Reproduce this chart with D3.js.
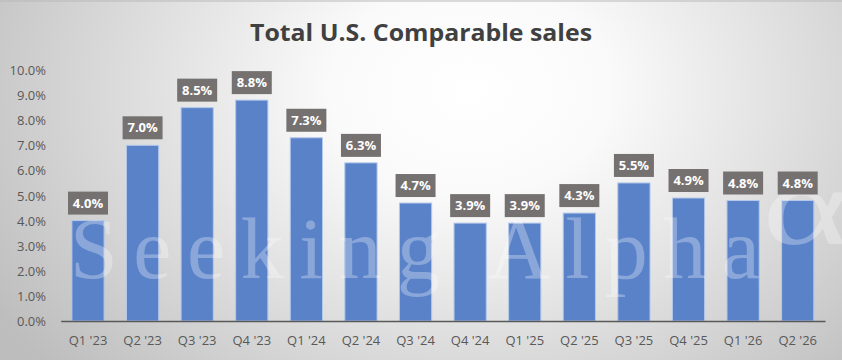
<!DOCTYPE html>
<html><head><meta charset="utf-8">
<script src="https://cdn.jsdelivr.net/npm/d3@7"></script>
<style>html,body{margin:0;padding:0;background:#fff;}svg{display:block;}</style>
</head><body>
<svg id="chart" width="842" height="360"></svg>
<script>
const categories = ["Q1 '23","Q2 '23","Q3 '23","Q4 '23","Q1 '24","Q2 '24","Q3 '24","Q4 '24","Q1 '25","Q2 '25","Q3 '25","Q4 '25","Q1 '26","Q2 '26"];
const values = [4.0,7.0,8.5,8.8,7.3,6.3,4.7,3.9,3.9,4.3,5.5,4.9,4.8,4.8];
const yTicks = [0,1,2,3,4,5,6,7,8,9,10];
const title = "Total U.S. Comparable sales";

const W = 842, H = 360;
const svg = d3.select("#chart");
const defs = svg.append("defs");
const grad = defs.append("radialGradient").attr("id","bg")
  .attr("gradientUnits","userSpaceOnUse").attr("cx",470).attr("cy",90).attr("r",560)
  .attr("gradientTransform","translate(470,90) scale(1,0.75) translate(-470,-90)");
grad.append("stop").attr("offset","0%").attr("stop-color","#ffffff");
grad.append("stop").attr("offset","25%").attr("stop-color","#fafafa");
grad.append("stop").attr("offset","100%").attr("stop-color","#bdbdbd");
svg.append("rect").attr("width",W).attr("height",H).attr("fill","url(#bg)");
svg.append("line").attr("x1",0).attr("x2",W).attr("y1",1).attr("y2",1).attr("stroke","#b8b8b8").attr("stroke-width",1);

const m = {left:60.7, right:825, top:70, bottom:321};
const x = d3.scaleBand().domain(categories).range([m.left,m.right]).paddingInner(0.41).paddingOuter(0.205);
const y = d3.scaleLinear().domain([0,10]).range([m.bottom,m.top]);

// title
svg.append("text").attr("x",421).attr("y",41).attr("text-anchor","middle")
  .attr("font-family","'Open Sans', sans-serif").attr("font-weight","bold").attr("font-size",24)
  .attr("fill","#404040").attr("textLength",342).attr("lengthAdjust","spacingAndGlyphs").text(title);

// y axis
const yAxis = d3.axisLeft(y).tickValues(yTicks).tickFormat(d => d.toFixed(1)+"%").tickSize(0).tickPadding(0);
const gy = svg.append("g").attr("transform",`translate(46,0)`).call(yAxis);
gy.select(".domain").remove();
gy.selectAll("text").attr("font-family","'Open Sans', sans-serif").attr("font-size",13).attr("fill","#595959").attr("dy","0.35em");

// bars
svg.append("g").selectAll("rect").data(values).join("rect")
  .attr("x",(d,i)=>x(categories[i])).attr("width",x.bandwidth())
  .attr("y",d=>y(d)).attr("height",d=>y(0)-y(d))
  .attr("fill","#5982c9").attr("stroke","#b4c8ea").attr("stroke-width",1);

// watermark
const wm = svg.append("g").attr("fill","#ffffff").attr("fill-opacity",0.3);
wm.append("text").attr("x",70).attr("y",278).attr("font-family","'Liberation Serif', 'DejaVu Serif', serif")
  .attr("font-size",86).attr("textLength",690).attr("lengthAdjust","spacing").text("Seeking Alpha");
wm.append("text").attr("transform","translate(762,244) scale(1.5,1)").attr("font-family","'Liberation Serif', serif")
  .attr("font-size",112).text("α");

// x axis
const xAxis = d3.axisBottom(x).tickSize(0).tickPadding(0);
const gx = svg.append("g").attr("transform",`translate(0,${m.bottom})`).call(xAxis);
gx.select(".domain").attr("stroke","#595959").attr("stroke-width",1.5);
gx.selectAll("text").attr("font-family","'Open Sans', sans-serif").attr("font-size",13).attr("fill","#595959").attr("dy",0).attr("y",24);

// labels
const lg = svg.append("g").selectAll("g").data(values).join("g")
  .attr("transform",(d,i)=>`translate(${x(categories[i])+x.bandwidth()/2},${y(d)-6})`);
lg.append("rect").attr("x",-20).attr("y",-23).attr("width",40).attr("height",23).attr("fill","#767171");
lg.append("text").attr("x",0).attr("y",-7).attr("text-anchor","middle")
  .attr("font-family","'Open Sans', sans-serif").attr("font-weight","bold").attr("font-size",13)
  .attr("fill","#ffffff").text(d=>d.toFixed(1)+"%");
</script>
</body></html>
